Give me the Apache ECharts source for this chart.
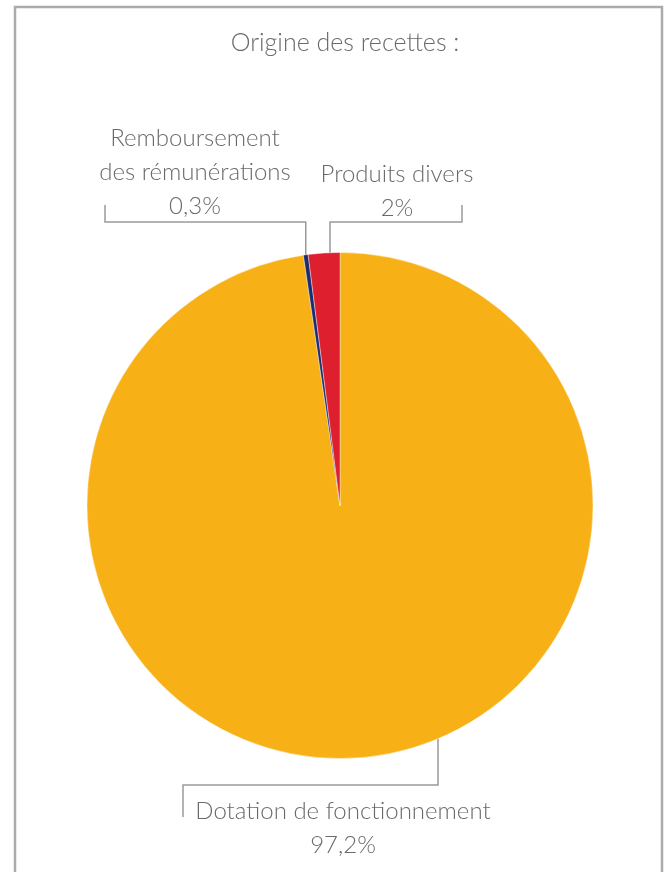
<!DOCTYPE html>
<html>
<head>
<meta charset="utf-8">
<script src="https://cdn.jsdelivr.net/npm/echarts@6/dist/echarts.min.js"></script>
<style>
  html, body { margin: 0; padding: 0; background: #fff; }
  #chart { width: 667px; height: 872px; }
</style>
</head>
<body>
<div id="chart"></div>
<script>
// ---- data ----
var titleText = 'Origine des recettes :';
var categories = ['Dotation de fonctionnement', 'Remboursement\ndes rémunérations', 'Produits divers'];
var values = [97.2, 0.3, 2];
var colors = ['#F8B017', '#1F2D6E', '#DE1F2D'];

// ---- layout / style constants ----
var CX = 340, CY = 505.5, R = 253;
var TEXT_COLOR = '#6a6a6a';
var LINE_COLOR = '#9a9a9a';
var FONT = 'Lato, "Open Sans", sans-serif';
// per-slice label placement (label center, bracket geometry)
// entryDx/entrySide: where the leader line meets the circle (null = slice midpoint)
var labelPlace = [
  { lx: 343, ly: 828, entryDx: 98, entrySide: 1, bracketY: 785, tickX: 183, tickY: 817 },
  { lx: 195, ly: 172, entryDx: null, bracketY: 222, tickX: 105, tickY: 205 },
  { lx: 397, ly: 191, entryDx: -10, entrySide: -1, bracketY: 222, tickX: 462, tickY: 205 }
];

var chart = echarts.init(document.getElementById('chart'), null, { renderer: 'canvas' });

var data = categories.map(function (c, i) {
  return { name: c, value: values[i], itemStyle: { color: colors[i] } };
});

var option = {
  animation: false,
  graphic: [
    {
      type: 'rect',
      shape: { x: 15, y: 7, width: 647, height: 1000 },
      style: { fill: 'none', stroke: '#ababab', lineWidth: 2.5 },
      silent: true
    },
    {
      type: 'text',
      x: 345, y: 43,
      style: {
        text: titleText,
        fill: TEXT_COLOR,
        font: '300 25px ' + FONT,
        textAlign: 'center',
        textVerticalAlign: 'middle'
      },
      silent: true
    }
  ],
  series: [{
    type: 'pie',
    center: [CX, CY],
    radius: [0, R],
    startAngle: 90,
    clockwise: true,
    avoidLabelOverlap: false,
    data: data,
    itemStyle: { borderColor: '#ffffff', borderWidth: 0.4 },
    label: {
      show: true,
      position: 'outside',
      color: TEXT_COLOR,
      fontFamily: FONT,
      fontWeight: 300,
      fontSize: 24,
      lineHeight: 34,
      align: 'center',
      formatter: function (p) {
        return p.name + '\n' + String(p.value).replace('.', ',') + '%';
      }
    },
    labelLine: {
      show: true,
      length: 10,
      length2: 10,
      smooth: false,
      lineStyle: { color: LINE_COLOR, width: 1.5 }
    },
    labelLayout: function (params) {
      var cfg = labelPlace[params.dataIndex];
      var start = params.labelLinePoints ? params.labelLinePoints[0] : [CX, CY - R];
      var sx = start[0], sy = start[1];
      if (cfg.entryDx != null) {
        sx = CX + cfg.entryDx;
        sy = CY + cfg.entrySide * Math.sqrt(R * R - cfg.entryDx * cfg.entryDx);
      }
      return {
        x: cfg.lx,
        y: cfg.ly,
        align: 'center',
        verticalAlign: 'middle',
        labelLinePoints: [
          [sx, sy],
          [sx, cfg.bracketY],
          [cfg.tickX, cfg.bracketY],
          [cfg.tickX, cfg.tickY]
        ]
      };
    },
    emphasis: { disabled: true }
  }]
};

chart.setOption(option);
</script>
</body>
</html>
